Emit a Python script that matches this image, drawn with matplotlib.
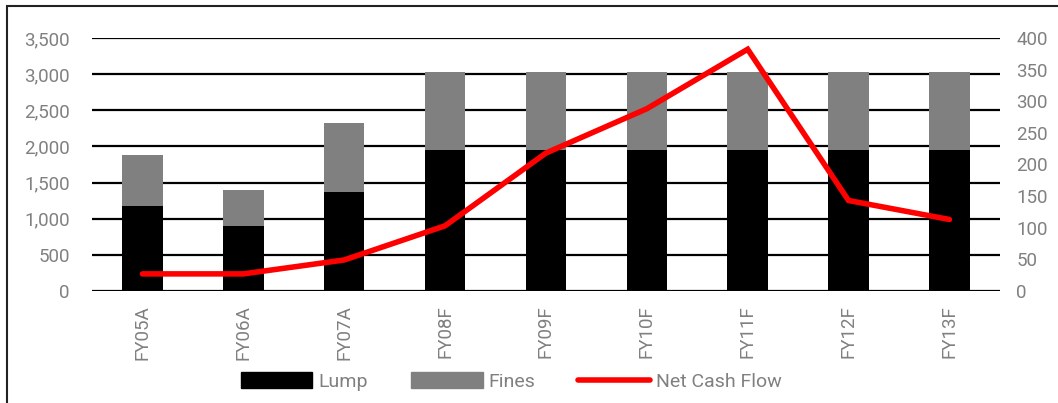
import matplotlib.pyplot as plt
from matplotlib.patches import Rectangle
from matplotlib.lines import Line2D

years = ["FY05A", "FY06A", "FY07A", "FY08F", "FY09F", "FY10F", "FY11F", "FY12F", "FY13F"]
lump = [1170, 900, 1370, 1950, 1950, 1950, 1950, 1950, 1950]
fines = [710, 500, 950, 1075, 1075, 1075, 1075, 1075, 1075]
net_cash_flow = [27, 27, 49, 103, 218, 288, 382, 143, 113]

GREY = "#808080"
plt.rcParams["font.family"] = ["Roboto", "DejaVu Sans"]


def main():
    fig = plt.figure(figsize=(10.58, 4.03), dpi=100)
    ax = fig.add_axes([0.087, 0.278, 0.858, 0.628])
    ax2 = ax.twinx()

    x = range(len(years))
    ax.bar(x, lump, width=0.4, color="black", zorder=2)
    ax.bar(x, fines, width=0.4, bottom=lump, color=GREY, zorder=2)

    ax.set_ylim(0, 3500)
    ax.set_yticks(range(0, 3501, 500))
    ax.set_yticklabels([f"{v:,}" for v in range(0, 3501, 500)])
    ax.set_xlim(-0.5, len(years) - 0.5)
    ax.set_xticks(list(x))
    ax.set_xticklabels(years, rotation=90)
    ax.grid(axis="y", color="black", linewidth=1.6, zorder=1)
    ax.set_axisbelow(True)

    ax2.plot(list(x), net_cash_flow, color="red", linewidth=4, solid_capstyle="round",
             solid_joinstyle="miter", zorder=3)
    ax2.set_ylim(0, 400)
    ax2.set_yticks(range(0, 401, 50))

    for a in (ax, ax2):
        for s in a.spines.values():
            s.set_visible(False)
        a.tick_params(length=0, colors=GREY, labelsize=13.5)
    ax.tick_params(axis="x", pad=10)
    ax.tick_params(axis="y", pad=16)
    ax2.tick_params(axis="y", pad=12)

    # outer frame
    fig.patches.append(Rectangle((0.0066, -0.05), 1.2, 1.035, transform=fig.transFigure,
                                 fill=False, edgecolor="#222222", linewidth=1.5))

    handles = [Rectangle((0, 0), 1, 1, color="black"),
               Rectangle((0, 0), 1, 1, color=GREY),
               Line2D([], [], color="red", linewidth=4, solid_capstyle="round")]
    fig.legend(handles, ["Lump", "Fines", "Net Cash Flow"], loc="center",
               bbox_to_anchor=(0.483, 0.053), ncol=3, frameon=False,
               fontsize=14, labelcolor=GREY, handlelength=3.7, handleheight=0.9,
               handletextpad=0.3, columnspacing=2.2)

    fig.savefig("out.png", dpi=100)


if __name__ == "__main__":
    main()
